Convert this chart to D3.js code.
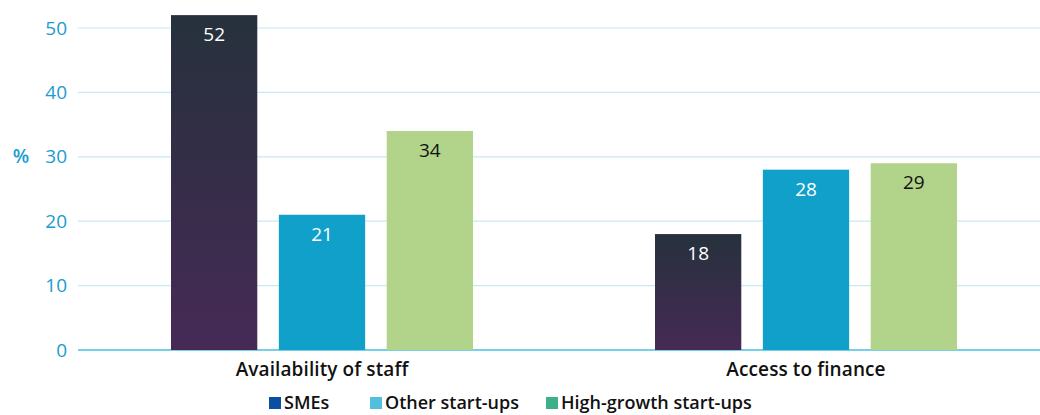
<!DOCTYPE html>
<html>
<head>
<meta charset="utf-8">
<script src="https://cdn.jsdelivr.net/npm/d3@7"></script>
<style>
  body { margin: 0; background: #fff; }
  text { font-family: "Open Sans", "DejaVu Sans", sans-serif; }
</style>
</head>
<body>
<svg id="chart"></svg>
<script>
var width = 1040, height = 415;

var categories = ["Availability of staff", "Access to finance"];
var seriesNames = ["SMEs", "Other start-ups", "High-growth start-ups"];
var smes = [52, 18];
var otherStartups = [21, 28];
var highGrowth = [34, 29];
var yTicks = [0, 10, 20, 30, 40, 50];

var barFill = ["url(#smeGrad)", "#10a0c9", "#b1d38a"];
var labelFill = ["#ffffff", "#ffffff", "#111111"];
var legendColors = ["#0b4fa0", "#52c0dc", "#3bb08a"];

var rows = [];
categories.forEach(function(c, i) {
    rows.push({cat: c, values: [smes[i], otherStartups[i], highGrowth[i]]});
});

var svg = d3.select("#chart")
        .attr("width", width)
        .attr("height", height);

var grad = svg.append("defs").append("linearGradient")
        .attr("id", "smeGrad")
        .attr("x1", 0).attr("y1", 0).attr("x2", 0).attr("y2", 1);
grad.append("stop").attr("offset", "0%").attr("stop-color", "#26313c");
grad.append("stop").attr("offset", "100%").attr("stop-color", "#462a56");

var y = d3.scaleLinear().domain([0, 50]).range([350, 28]);
var x0 = d3.scaleBand().domain(categories).range([80, 1048]);
var x1 = d3.scaleBand().domain(seriesNames).range([0, 302]).paddingInner(0.2);

// gridlines + labels
svg.selectAll(".grid")
    .data(yTicks)
    .enter()
    .append("line")
    .attr("x1", 78).attr("x2", width)
    .attr("y1", d => y(d)).attr("y2", d => y(d))
    .style("stroke", d => d == 0 ? "#4bbfe0" : "#c8e9f4")
    .style("stroke-width", d => d == 0 ? 1.5 : 1.2);

svg.selectAll(".ytick")
    .data(yTicks)
    .enter()
    .append("text")
    .attr("x", 67)
    .attr("y", d => y(d))
    .attr("dy", "0.35em")
    .attr("text-anchor", "end")
    .attr("fill", "#1a9ccf")
    .style("font-size", "19px")
    .text(d => d);

svg.append("text")
    .attr("x", 21).attr("y", y(30))
    .attr("dy", "0.35em")
    .attr("text-anchor", "middle")
    .attr("fill", "#1a9ccf")
    .style("font-size", "19px")
    .style("font-weight", "600")
    .text("%");

var groups = svg.selectAll(".group")
    .data(rows)
    .enter()
    .append("g")
    .attr("transform", d => "translate(" + (x0(d.cat) + x0.bandwidth()/2 - 151) + ",0)");

groups.selectAll("rect")
    .data(d => d.values)
    .enter()
    .append("rect")
    .attr("x", (d, i) => x1(seriesNames[i]))
    .attr("width", x1.bandwidth())
    .attr("y", d => y(d))
    .attr("height", d => y(0) - y(d))
    .style("fill", (d, i) => barFill[i]);

groups.selectAll(".val")
    .data(d => d.values)
    .enter()
    .append("text")
    .attr("x", (d, i) => x1(seriesNames[i]) + x1.bandwidth()/2)
    .attr("y", d => y(d) + 26)
    .attr("text-anchor", "middle")
    .attr("fill", (d, i) => labelFill[i])
    .style("font-size", "19px")
    .text(d => d);

svg.selectAll(".cat")
    .data(categories)
    .enter()
    .append("text")
    .attr("x", d => x0(d) + x0.bandwidth()/2)
    .attr("y", 376)
    .attr("text-anchor", "middle")
    .attr("fill", "#111")
    .style("font-size", "19px")
    .style("font-weight", "600")
    .style("letter-spacing", "0.1px")
    .text(d => d);

// legend
var legendX = [269, 370, 546];
var legend = svg.selectAll(".legend")
    .data(seriesNames)
    .enter()
    .append("g")
    .attr("transform", (d, i) => "translate(" + legendX[i] + ",397)");
legend.append("rect")
    .attr("width", 12).attr("height", 12)
    .style("fill", (d, i) => legendColors[i]);
legend.append("text")
    .attr("x", 15).attr("y", 6)
    .attr("dy", "0.35em")
    .attr("fill", "#111")
    .style("font-size", "18px")
    .style("font-weight", "600")
    .text(d => d);
</script>
</body>
</html>
